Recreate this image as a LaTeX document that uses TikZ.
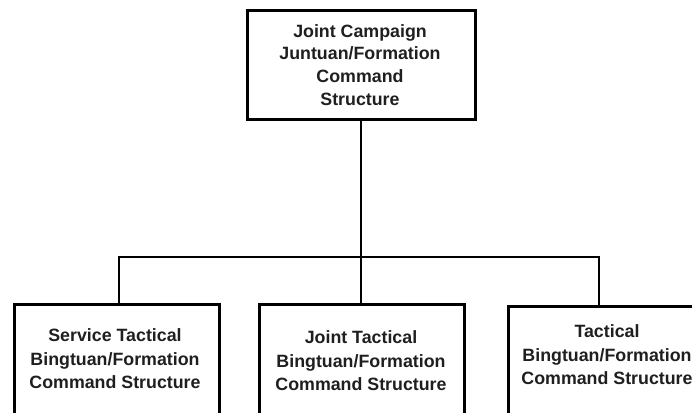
\documentclass[tikz,border=0pt]{standalone}
\usepackage{fontspec}
\setmainfont{Liberation Sans}
\begin{document}
\begin{tikzpicture}[x=1pt,y=-1pt,
  box/.style={draw=black, line width=2.8pt, fill=white, inner sep=0pt, anchor=north west},
  label/.style={font=\bfseries\fontsize{17.8}{23.5}\selectfont, align=center, inner sep=0pt, text=black!88},
  link/.style={draw=black, line width=2pt}]
  \useasboundingbox (0,0) rectangle (692,412);
  \clip (0,0) rectangle (692,412);

  % top-level command structure
  \node[box, minimum width=228, minimum height=109] (top) at (246,9) {};
  \node[label, font=\bfseries\fontsize{17.8}{22.8}\selectfont] (toptext) at (360,65)
    {Joint Campaign\\Juntuan/Formation\\Command\\Structure};

  % junction points on the distribution bar
  \coordinate (jl) at (119,257);
  \coordinate (jr) at (599,257);

  % subordinate command structures (extend past the page edge)
  \node[box, minimum width=205, minimum height=140] (svc) at (13,303) {};
  \node[box, minimum width=205, minimum height=140] (jnt) at (258,303) {};
  \node[box, minimum width=201, minimum height=140] (tac) at (507,305) {};

  \node[label] (svctext) at (115,359)
    {Service Tactical\\Bingtuan/Formation\\Command Structure};
  \node[label] (jnttext) at (361,361)
    {Joint Tactical\\Bingtuan/Formation\\Command Structure};
  \node[label] (tactext) at (607,355)
    {Tactical\\Bingtuan/Formation\\Command Structure};

  % connectors
  \draw[link] (top.south) -- (top.south |- jl);
  \draw[link] (svc.north -| jl) -- (jl) -- (jr) -- (tac.north -| jr);
  \draw[link] (top.south |- jl) -- (jnt.north -| top.south);
\end{tikzpicture}
\end{document}
